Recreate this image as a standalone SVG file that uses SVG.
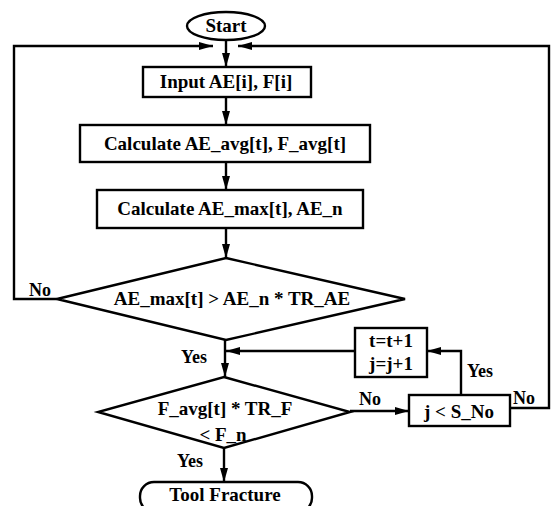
<svg xmlns="http://www.w3.org/2000/svg" width="552" height="506" viewBox="0 0 552 506">
<defs>
<style>
.s{fill:#fff;stroke:#000;stroke-width:2.4}
.c{fill:none;stroke:#000;stroke-width:2.4}
.t{font-family:"Liberation Serif","Times New Roman",serif;font-weight:bold;font-size:19px;fill:#000;text-anchor:middle}
.l{font-family:"Liberation Serif","Times New Roman",serif;font-weight:bold;font-size:18px;fill:#000}
</style>
<marker id="a" viewBox="0 0 14 8" refX="14" refY="4" markerWidth="14" markerHeight="8" markerUnits="userSpaceOnUse" orient="auto">
<path d="M0,0 L14,4 L0,8 Z" fill="#000"/>
</marker>
</defs>
<rect width="552" height="506" fill="#fff"/>
<g id="connectors">
<line class="c" x1="226" y1="40" x2="226" y2="67" marker-end="url(#a)"/>
<line class="c" x1="226" y1="97" x2="226" y2="125" marker-end="url(#a)"/>
<line class="c" x1="226" y1="162" x2="226" y2="190" marker-end="url(#a)"/>
<line class="c" x1="226" y1="228" x2="226" y2="258" marker-end="url(#a)"/>
<line class="c" x1="225" y1="340" x2="225" y2="377" marker-end="url(#a)"/>
<line class="c" x1="355" y1="351" x2="226" y2="351" marker-end="url(#a)"/>
<polyline class="c" points="461,395 461,351 427,351" marker-end="url(#a)"/>
<line class="c" x1="350" y1="411" x2="409" y2="411" marker-end="url(#a)"/>
<polyline class="c" points="510,408 549,408 549,46 238,46" marker-end="url(#a)"/>
<polyline class="c" points="57,299 14,299 14,46 213,46" marker-end="url(#a)"/>
<line class="c" x1="224" y1="448" x2="224" y2="482" marker-end="url(#a)"/>
<text class="l" x="29" y="296">No</text>
<text class="l" x="181" y="363">Yes</text>
<text class="l" x="359" y="405">No</text>
<text class="l" x="467" y="377">Yes</text>
<text class="l" x="513" y="404">No</text>
<text class="l" x="177" y="467">Yes</text>
</g>
<g id="start">
<ellipse class="s" cx="226" cy="26" rx="39" ry="14"/>
<text class="t" x="226" y="32">Start</text>
</g>
<g id="input">
<rect class="s" x="143" y="67" width="168" height="30"/>
<text class="t" x="226" y="88">Input AE[i], F[i]</text>
</g>
<g id="calc-avg">
<rect class="s" x="80" y="125" width="290" height="37"/>
<text class="t" x="225" y="150">Calculate AE_avg[t], F_avg[t]</text>
</g>
<g id="calc-max">
<rect class="s" x="97" y="190" width="266" height="38"/>
<text class="t" x="230" y="215">Calculate AE_max[t], AE_n</text>
</g>
<g id="dec-ae">
<polygon class="s" points="226,258 405,299 226,340 57,299"/>
<text class="t" x="232" y="305" font-size="20">AE_max[t] &gt; AE_n * TR_AE</text>
</g>
<g id="dec-f">
<polygon class="s" points="224,377 350,412 224,448 98,412"/>
<text class="t" x="225" y="415">F_avg[t] * TR_F</text>
<text class="t" x="223" y="441">&lt; F_n</text>
</g>
<g id="inc">
<rect class="s" x="355" y="328" width="72" height="49"/>
<text class="t" x="391" y="347">t=t+1</text>
<text class="t" x="391" y="370">j=j+1</text>
</g>
<g id="dec-j">
<rect class="s" x="409" y="395" width="101" height="31"/>
<text class="t" x="459" y="418">j &lt; S_No</text>
</g>
<g id="end">
<rect class="s" x="140" y="482" width="172" height="30" rx="14" ry="14"/>
<text class="t" x="225" y="501">Tool Fracture</text>
</g>
</svg>
